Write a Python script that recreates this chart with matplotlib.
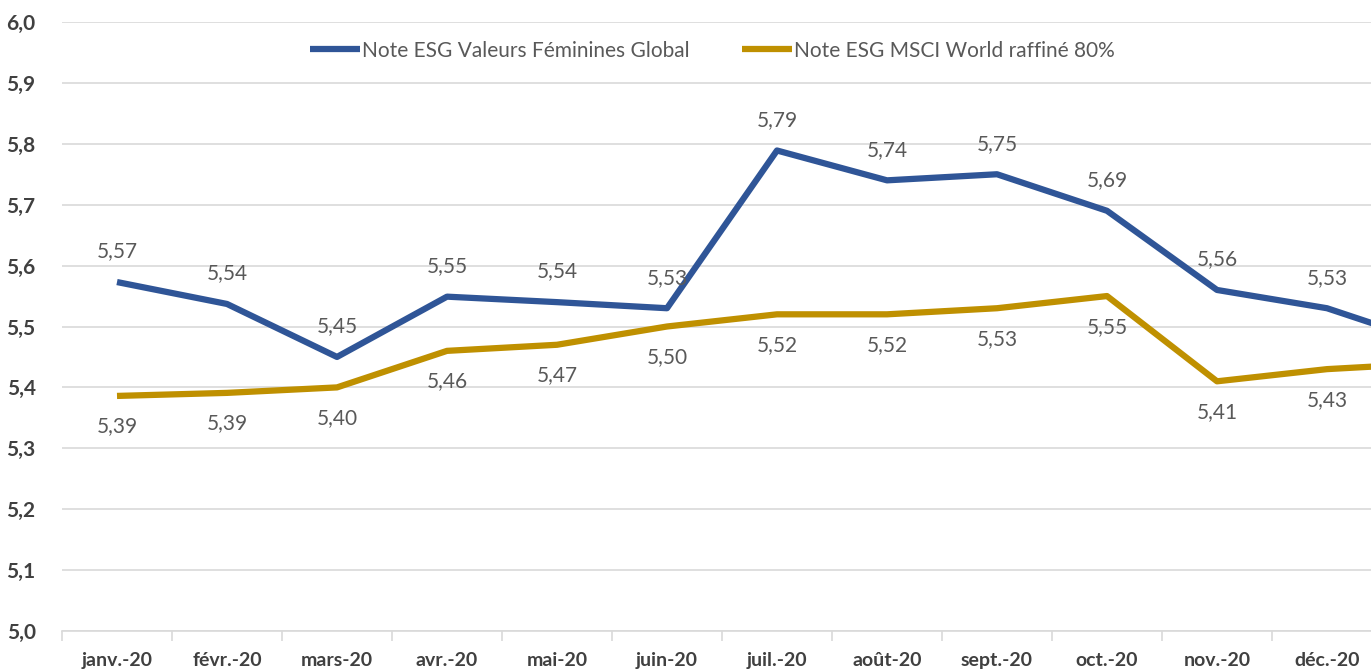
import matplotlib
matplotlib.use("Agg")
import matplotlib.pyplot as plt
from matplotlib.ticker import FixedLocator, FuncFormatter

months = ["janv.-20", "févr.-20", "mars-20", "avr.-20", "mai-20", "juin-20",
          "juil.-20", "août-20", "sept.-20", "oct.-20", "nov.-20", "déc.-20", "janv.-21"]
vf_global = [5.573, 5.537, 5.450, 5.549, 5.540, 5.530, 5.789, 5.740, 5.750, 5.690, 5.560, 5.530, 5.47]
msci_world = [5.386, 5.391, 5.400, 5.460, 5.470, 5.500, 5.520, 5.520, 5.530, 5.550, 5.410, 5.430, 5.44]
name_vf = "Note ESG Valeurs Féminines Global"
name_msci = "Note ESG MSCI World raffiné 80%"

plt.rcParams['font.family'] = ['Lato', 'DejaVu Sans']

fig = plt.figure(figsize=(13.71, 6.69), dpi=100)
ax = fig.add_axes([62/1371, 1-631/669, 1-62/1371, (631-22)/669])

x = list(range(len(months)))
blue = "#2F5597"
gold = "#BF9000"
ax.plot(x, vf_global, color=blue, lw=4.5, solid_capstyle='butt', label=name_vf, zorder=3)
ax.plot(x, msci_world, color=gold, lw=4.5, solid_capstyle='butt', label=name_msci, zorder=3)

lblc = "#595959"
for i in range(12):
    ax.annotate(f"{vf_global[i]:.2f}".replace(".", ","), (x[i], vf_global[i]), xytext=(0, 22),
                textcoords="offset points", ha="center", va="center", fontsize=15, color=lblc)
    ax.annotate(f"{msci_world[i]:.2f}".replace(".", ","), (x[i], msci_world[i]), xytext=(0, -22),
                textcoords="offset points", ha="center", va="center", fontsize=15, color=lblc)

ax.set_xlim(-0.5, 11.4)
ax.set_ylim(5.0, 6.0)
ax.set_yticks([5.0 + 0.1*k for k in range(11)])
ax.yaxis.set_major_formatter(FuncFormatter(lambda v, p: f"{v:.1f}".replace(".", ",")))
ax.grid(axis='y', color="#D9D9D9", lw=1.2)
ax.set_axisbelow(True)
ax.xaxis.set_major_locator(FixedLocator([i - 0.5 for i in range(14)]))
ax.xaxis.set_minor_locator(FixedLocator(x))
ax.set_xticklabels([])
ax.set_xticklabels(months, minor=True, fontsize=14, fontweight='bold', color="#404040")
ax.tick_params(axis='x', which='major', length=7, color="#D9D9D9", width=1.2)
ax.tick_params(axis='x', which='minor', length=0, pad=15)
ax.tick_params(axis='y', length=0, labelsize=15, labelcolor="#404040", pad=19)
for lbl in ax.get_yticklabels():
    lbl.set_fontweight('bold')
for s in ['left', 'right', 'top']:
    ax.spines[s].set_visible(False)
ax.spines['bottom'].set_color("#D9D9D9")
ax.spines['bottom'].set_linewidth(1.2)

leg = ax.legend(loc='upper center', bbox_to_anchor=(0.497, 1.0), ncol=2, frameon=False,
                fontsize=15, handlelength=2.4, handletextpad=0.1, columnspacing=2.5)
for t in leg.get_texts():
    t.set_color(lblc)

fig.savefig("out.png", dpi=100)
